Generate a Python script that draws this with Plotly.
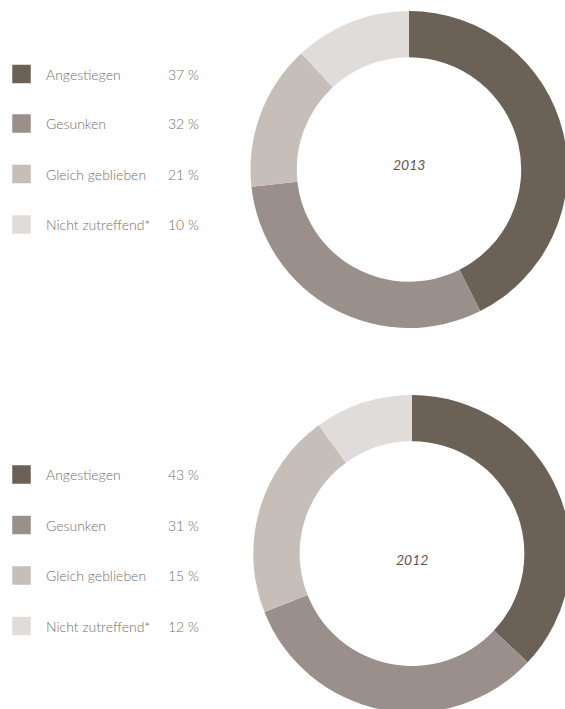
import plotly.graph_objects as go

# ---- data ----
categories = ["Angestiegen", "Gesunken", "Gleich geblieben", "Nicht zutreffend*"]
values_2013 = [37, 32, 21, 10]
values_2012 = [43, 31, 15, 12]
# slices as they appear in the picture (upper ring labelled 2013, lower ring labelled 2012)
ring_top_values = [43, 31, 15, 12]
ring_bottom_values = [37, 32, 21, 10]
ring_top_label = "2013"
ring_bottom_label = "2012"
colors = ["#6b6157", "#9a8f8a", "#c5beb9", "#e0dcd9"]

W, H = 575, 715
TEXT = "#776e68"
FONT = "Lato"

fig = go.Figure()

def pie_domain(cx, cy, r):
    return dict(x=[(cx - r) / W, (cx + r) / W], y=[1 - (cy + r) / H, 1 - (cy - r) / H])

for vals, (cx, cy, r) in [(ring_top_values, (409, 169.5, 158.5)),
                          (ring_bottom_values, (412, 553.7, 158.7))]:
    fig.add_trace(go.Pie(
        labels=categories, values=vals, hole=0.708, sort=False,
        direction="clockwise", rotation=0,
        marker=dict(colors=colors, line=dict(width=0)),
        textinfo="none", hoverinfo="skip", showlegend=False,
        domain=pie_domain(cx, cy, r),
    ))

# legend blocks
annotations = []
blocks = [(values_2013, [74, 123.5, 174, 224.5]), (values_2012, [474.5, 525, 575.5, 626])]
for vals, ys in blocks:
    fig.add_trace(go.Scatter(
        x=[21.5] * len(categories), y=ys, mode="markers",
        marker=dict(symbol="square", size=18.5, color=colors, line=dict(width=0)),
        hoverinfo="skip", showlegend=False,
    ))
    for cat, v, y in zip(categories, vals, ys):
        annotations.append(dict(x=43.5, y=y, xref="x", yref="y", text=cat, showarrow=False,
                                xanchor="left", yanchor="middle",
                                font=dict(family=FONT, size=14, color=TEXT, weight=300)))
        annotations.append(dict(x=201, y=y, xref="x", yref="y", text=f"{v} %", showarrow=False,
                                xanchor="right", yanchor="middle",
                                font=dict(family=FONT, size=14, color=TEXT, weight=300)))

for lab, (x, y) in [(ring_top_label, (408.5, 164)), (ring_bottom_label, (412, 559))]:
    annotations.append(dict(x=x, y=y, xref="x", yref="y", text=f"<i>{lab}</i>", showarrow=False,
                            xanchor="center", yanchor="middle",
                            font=dict(family=FONT, size=14, color="#5f5750")))

fig.update_layout(
    width=W, height=H, margin=dict(l=0, r=0, t=0, b=0),
    paper_bgcolor="white", plot_bgcolor="rgba(0,0,0,0)",
    xaxis=dict(range=[0, W], visible=False, fixedrange=True),
    yaxis=dict(range=[H, 0], visible=False, fixedrange=True),
    annotations=annotations,
)

fig.write_html("out.html", config={"displayModeBar": False},
               post_script="document.body.style.margin='0';document.body.style.overflow='hidden';document.documentElement.style.overflow='hidden';")
